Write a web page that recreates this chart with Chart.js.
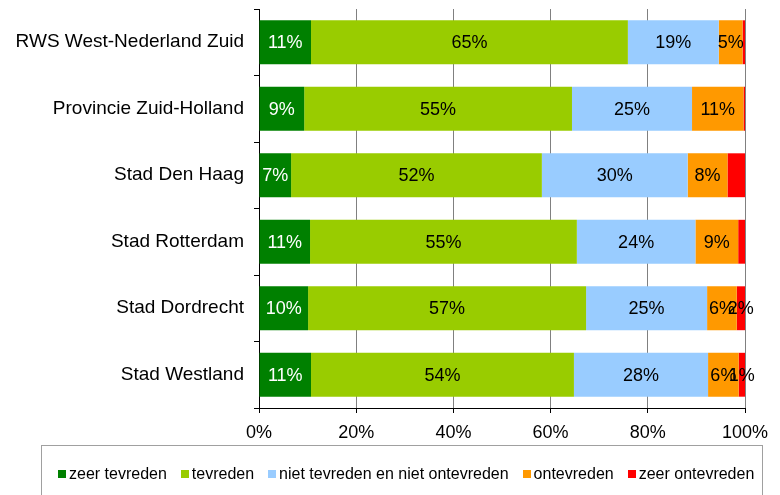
<!DOCTYPE html>
<html>
<head>
<meta charset="utf-8">
<script src="https://cdn.jsdelivr.net/npm/chart.js@4/dist/chart.umd.min.js"></script>
<style>
    html, body { margin: 0; padding: 0; background: #fff; }
    #wrap { position: relative; width: 780px; height: 495px; overflow: hidden; }
    #legend {
        position: absolute; left: 41px; top: 445px; width: 722px; height: 70px;
        border: 1px solid #a0a0a0; box-sizing: border-box;
        display: flex; align-items: flex-start; padding: 19px 0 0 16px;
        font-family: "Liberation Sans", Arial, sans-serif; font-size: 16px; color: #000;
    }
    .item { display: flex; align-items: center; margin-right: 14px; white-space: nowrap; }
    .box { width: 8px; height: 8px; margin-right: 3px; }
</style>
</head>
<body>
<div id="wrap">
    <canvas id="satChart" width="780" height="495"></canvas>
    <div id="legend"></div>
</div>
<script>
const categories = ['RWS West-Nederland Zuid', 'Provincie Zuid-Holland', 'Stad Den Haag', 'Stad Rotterdam', 'Stad Dordrecht', 'Stad Westland'];
const seriesNames = ['zeer tevreden', 'tevreden', 'niet tevreden en niet ontevreden', 'ontevreden', 'zeer ontevreden'];
const seriesColors = ['#008000', '#99cc00', '#99ccff', '#ff9900', '#ff0000'];

const zeerTevreden = [10.7, 9.3, 6.6, 10.5, 10.1, 10.7];
const tevreden = [65.2, 55.1, 51.6, 54.9, 57.2, 54.1];
const neutraal = [18.7, 24.7, 30.0, 24.4, 24.9, 27.6];
const ontevreden = [4.9, 10.6, 8.2, 8.8, 6.1, 6.3];
const zeerOntevreden = [0.5, 0.3, 3.6, 1.4, 1.7, 1.3];
// only the last two red segments carry a label in the original
const zeerOntevredenLabel = [false, false, false, false, true, true];

const xTicks = [0, 20, 40, 60, 80, 100];

const allSeries = [zeerTevreden, tevreden, neutraal, ontevreden, zeerOntevreden];

const FONT = '"Liberation Sans", Arial, sans-serif';

const valueLabels = {
    id: 'valueLabels',
    afterDatasetsDraw(chart) {
        const ctx = chart.ctx;
        ctx.save();
        ctx.font = '18px ' + FONT;
        ctx.textAlign = 'center';
        ctx.textBaseline = 'middle';
        chart.data.datasets.forEach((ds, i) => {
            const meta = chart.getDatasetMeta(i);
            meta.data.forEach((bar, j) => {
                if (i === 4 && !zeerOntevredenLabel[j]) return;
                const p = bar.getCenterPoint();
                ctx.fillStyle = i === 0 ? '#fff' : '#000';
                ctx.fillText(Math.round(ds.data[j]) + '%', p.x, p.y + 1);
            });
        });
        ctx.restore();
    }
};

const chart = new Chart(document.getElementById('satChart'), {
    type: 'bar',
    data: {
        labels: categories,
        datasets: allSeries.map((d, i) => ({
            label: seriesNames[i],
            data: d,
            backgroundColor: seriesColors[i],
            borderWidth: 0,
            categoryPercentage: 1,
            barPercentage: 0.66
        }))
    },
    options: {
        indexAxis: 'y',
        responsive: false,
        animation: false,
        layout: { padding: { top: 9, right: 35, left: 0, bottom: 0 } },
        plugins: {
            legend: { display: false },
            tooltip: { enabled: false }
        },
        scales: {
            x: {
                stacked: true,
                min: 0,
                max: 100,
                afterBuildTicks: (s) => { s.ticks = xTicks.map(v => ({ value: v })); },
                afterFit: (s) => { s.height = 87; },
                ticks: {
                    callback: (v) => v + '%',
                    color: '#000',
                    font: { family: FONT, size: 18 },
                    padding: 9,
                    maxRotation: 0
                },
                grid: { color: '#808080', tickColor: '#000', tickLength: 5 },
                border: { color: '#000' }
            },
            y: {
                stacked: true,
                afterFit: (s) => { s.width = 259; s.paddingTop = 0; s.paddingBottom = 0; },
                ticks: {
                    color: '#000',
                    font: { family: FONT, size: 19 },
                    padding: 10
                },
                grid: { drawOnChartArea: false, tickColor: '#000', tickLength: 5 },
                border: { color: '#000' }
            }
        }
    },
    plugins: [valueLabels]
});

const legendEl = document.getElementById('legend');
chart.data.datasets.forEach(ds => {
    const item = document.createElement('div');
    item.className = 'item';
    item.innerHTML = '<span class="box" style="background:' + ds.backgroundColor + '"></span><span>' + ds.label + '</span>';
    legendEl.appendChild(item);
});
</script>
</body>
</html>
